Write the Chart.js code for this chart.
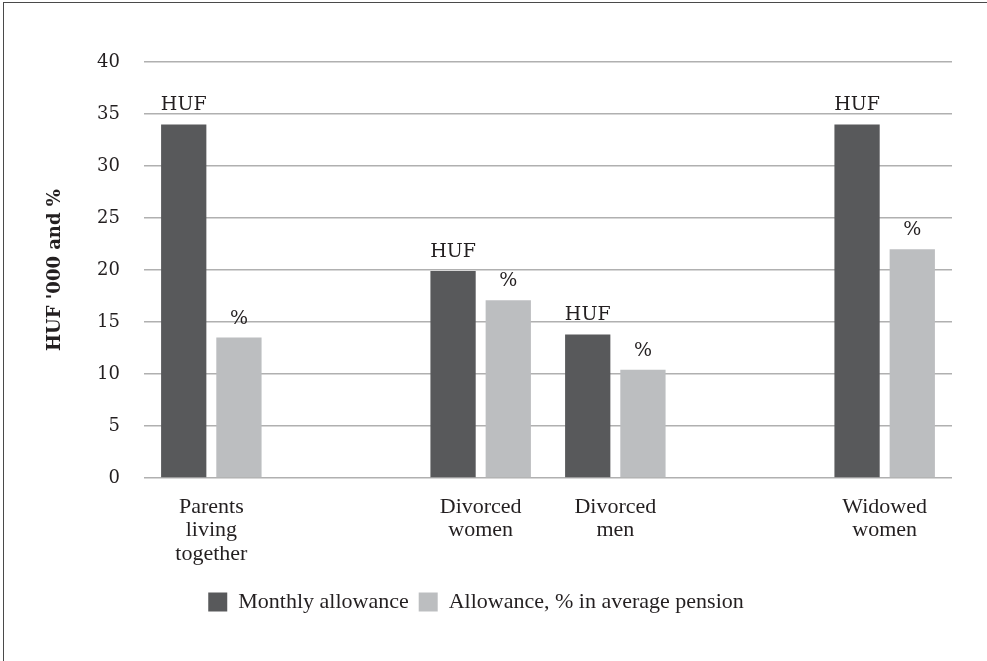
<!DOCTYPE html>
<html>
<head>
<meta charset="utf-8">
<script src="https://cdn.jsdelivr.net/npm/chart.js@4/dist/chart.umd.min.js"></script>
<style>
  html, body { margin: 0; padding: 0; background: #fff; overflow: hidden; }
  #frame { position: absolute; left: 3px; top: 2px; width: 1200px; height: 900px;
           border-top: 1px solid #4a4a4a; border-left: 1px solid #4a4a4a; }
  #wrap { position: absolute; left: 0; top: 0; width: 987px; height: 661px; }
</style>
</head>
<body>
<div id="frame"></div>
<div id="wrap"><canvas id="c"></canvas></div>
<script>
// Household groups (blank slots keep the wider gaps between groups)
const categories = [
  ['Parents', 'living', 'together'],
  '',
  ['Divorced', 'women'],
  ['Divorced', 'men'],
  '',
  ['Widowed', 'women']
];
// HUF '000 per month
const monthlyAllowance = [34, null, 19.9, 13.8, null, 34];
// allowance as % of the average pension
const allowancePctPension = [13.5, null, 17.1, 10.4, null, 22];
const seriesNames = ['Monthly allowance', 'Allowance, % in average pension'];
const seriesTags = ['HUF', '%'];
const yMin = 0, yMax = 40, yStep = 5;

const serif = '"DejaVu Serif", serif';
const bookSerif = '"Liberation Serif", "Times New Roman", serif';
const ink = '#231f20';

// Writes the unit tag of each series above its bars
const barTags = {
  id: 'barTags',
  afterDatasetsDraw(chart) {
    const ctx = chart.ctx;
    ctx.save();
    ctx.font = '19px ' + serif;
    ctx.fillStyle = ink;
    ctx.textAlign = 'center';
    ctx.textBaseline = 'alphabetic';
    chart.data.datasets.forEach((ds, i) => {
      const meta = chart.getDatasetMeta(i);
      meta.data.forEach((el, j) => {
        if (ds.data[j] == null) return;
        ctx.fillText(seriesTags[i], el.x, el.y - 14);
      });
    });
    ctx.restore();
  }
};

new Chart(document.getElementById('c'), {
  type: 'bar',
  data: {
    labels: categories,
    datasets: [
      { label: seriesNames[0], data: monthlyAllowance, backgroundColor: '#58595b' },
      { label: seriesNames[1], data: allowancePctPension, backgroundColor: '#bcbec0' }
    ]
  },
  options: {
    responsive: true,
    maintainAspectRatio: false,
    animation: false,
    datasets: { bar: { categoryPercentage: 0.82, barPercentage: 0.82 } },
    layout: { padding: { top: 62, right: 35, bottom: 38, left: 0 } },
    scales: {
      x: {
        grid: { display: false, drawTicks: false },
        border: { display: false },
        ticks: { color: ink, font: { family: bookSerif, size: 22, lineHeight: 1.05 }, padding: 18, maxRotation: 0, autoSkip: false },
        afterFit(scale) { scale.height = 103; }
      },
      y: {
        min: yMin, max: yMax,
        grid: { color: '#b0b0b0', lineWidth: 1.5, drawTicks: false },
        border: { display: false },
        ticks: { stepSize: yStep, color: ink, font: { family: serif, size: 18 }, padding: 24 },
        title: { display: true, text: "HUF '000 and %", color: ink,
                 font: { family: serif, size: 18, weight: 'bold' }, padding: { top: 45, bottom: 0 } },
        afterFit(scale) { scale.width = 144; }
      }
    },
    plugins: {
      legend: {
        position: 'bottom',
        labels: { color: ink, font: { family: bookSerif, size: 22 }, boxWidth: 19, boxHeight: 19, padding: 10 }
      },
      tooltip: { enabled: false }
    }
  },
  plugins: [barTags]
});
</script>
</body>
</html>
